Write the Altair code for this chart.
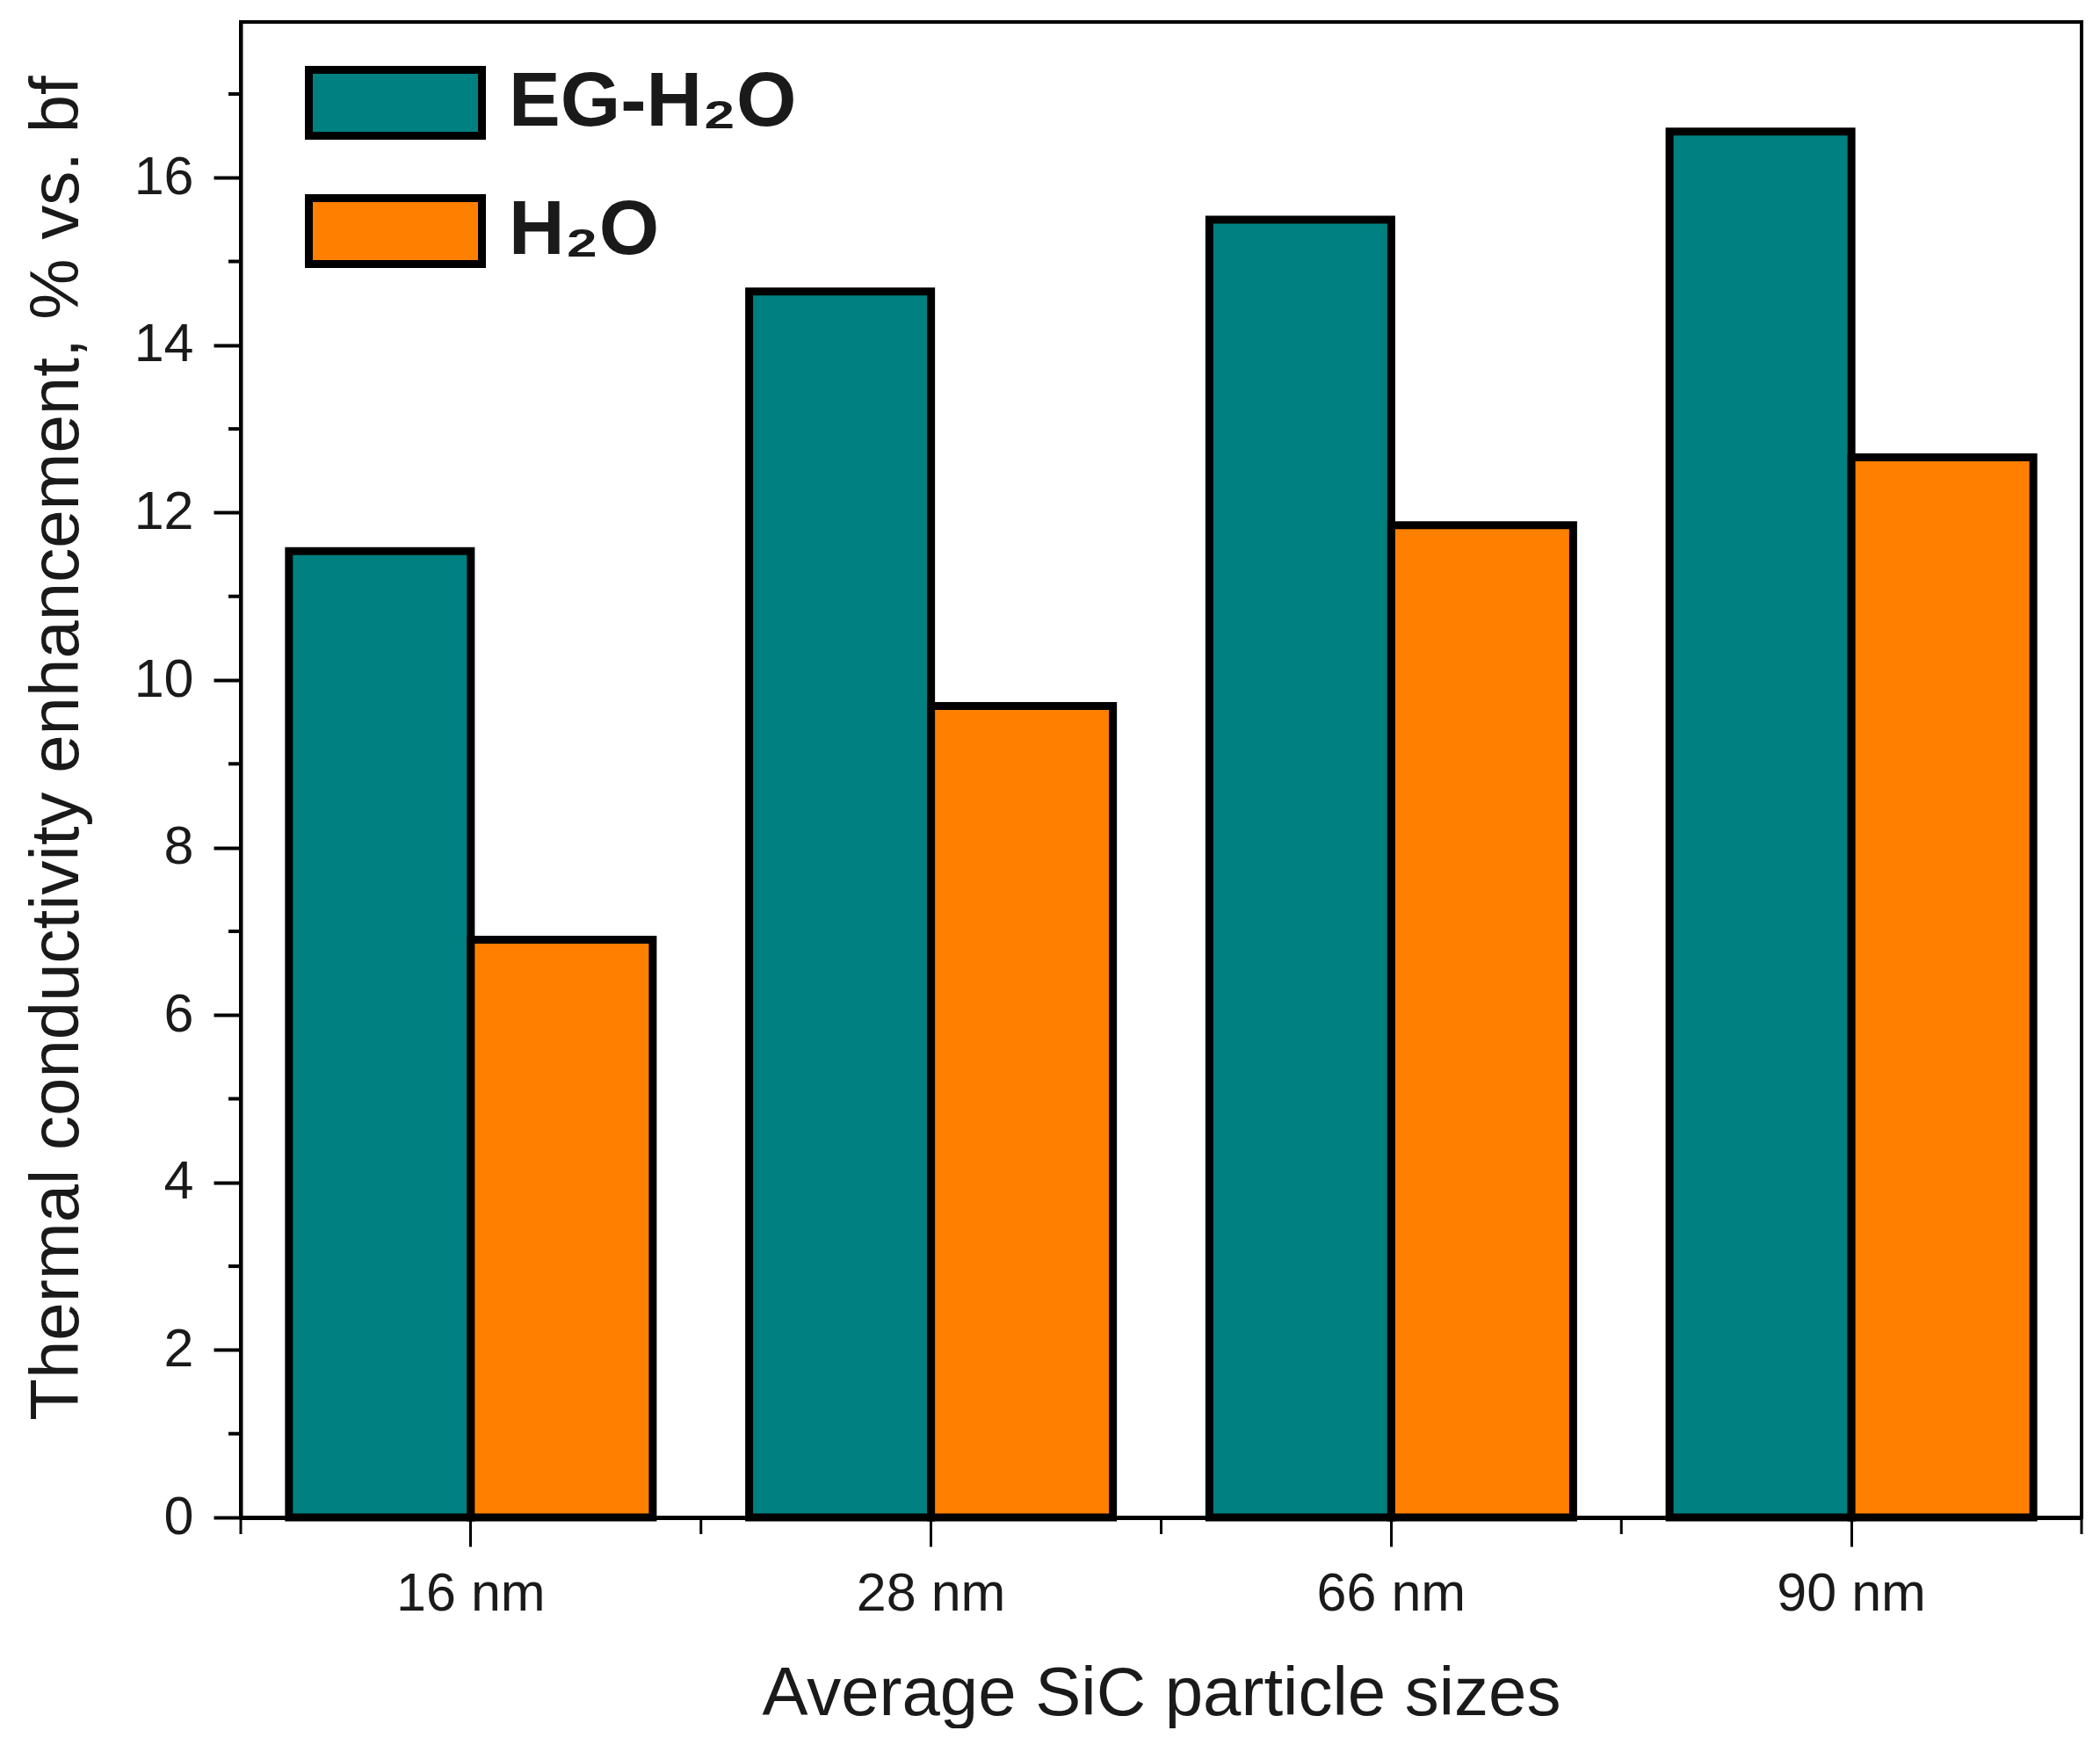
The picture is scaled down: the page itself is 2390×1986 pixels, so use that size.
import altair as alt
import pandas as pd

# ---- data ----
sizes = ["16 nm", "28 nm", "66 nm", "90 nm"]
series = ["EG-H₂O", "H₂O"]
eg_h2o = [11.54, 14.64, 15.50, 16.55]
h2o = [6.90, 9.69, 11.85, 12.66]
colors = ["#008080", "#FF8000"]
y_major = [0, 2, 4, 6, 8, 10, 12, 14, 16]
y_minor = [1, 3, 5, 7, 9, 11, 13, 15, 17]

df = pd.DataFrame({
    "size": sizes * 2,
    "fluid": [series[0]] * len(sizes) + [series[1]] * len(sizes),
    "value": eg_h2o + h2o,
})
minor_df = pd.DataFrame({"v": y_minor})
bound_df = pd.DataFrame({"size": sizes})
last_df = pd.DataFrame({"size": sizes[-1:]})

W, H = 2095, 1702
FONT = "Liberation Sans"
TXT = "#1a1a1a"

x_scale = alt.Scale(domain=sizes, paddingInner=0, paddingOuter=0)
y_scale = alt.Scale(domain=[0, 17.86], nice=False, zero=True)

bars = alt.Chart(df).mark_bar(stroke="black", strokeWidth=9, strokeJoin="miter").encode(
    x=alt.X("size:N", sort=sizes, scale=x_scale,
            axis=alt.Axis(title="Average SiC particle sizes", labelAngle=0,
                          tickSize=33, tickWidth=3, tickColor="black",
                          domainWidth=5, domainColor="black",
                          labelFontSize=61, labelPadding=24, labelColor=TXT,
                          titleFontSize=78, titleFontWeight="normal", titleColor=TXT,
                          titleY=224, titleBaseline="alphabetic")),
    xOffset=alt.XOffset("fluid:N", sort=series,
                        scale=alt.Scale(domain=series, paddingInner=0, paddingOuter=0.265)),
    y=alt.Y("value:Q", scale=y_scale,
            axis=alt.Axis(values=y_major, format="d",
                          title="Thermal conductivity enhancement, % vs. bf",
                          tickSize=31, tickWidth=4, tickColor="black",
                          domainWidth=4, domainColor="black", grid=False,
                          labelFontSize=61, labelPadding=23, labelColor=TXT,
                          titleFontSize=78, titleFontWeight="normal", titleColor=TXT,
                          titleX=-186, titleY=826, titleBaseline="alphabetic")),
    color=alt.Color("fluid:N", scale=alt.Scale(domain=series, range=colors),
                    legend=alt.Legend(title=None, orient="none", legendX=73, legendY=19,
                                      symbolType="M-1,-0.38H1V0.38H-1Z", symbolSize=38809,
                                      symbolStrokeColor="black", symbolStrokeWidth=9,
                                      symbolOpacity=1,
                                      labelFontSize=88, labelFontWeight="bold",
                                      labelLimit=2000, clipHeight=146,
                                      labelColor=TXT, labelOffset=26, rowPadding=0,
                                      padding=0)),
)

minor_y = alt.Chart(minor_df).mark_rule(color="black", strokeWidth=4).encode(
    y=alt.Y("v:Q", scale=y_scale),
    x=alt.value(-14), x2=alt.value(0),
)

bound_ticks = alt.Chart(bound_df).mark_rule(color="black", strokeWidth=3).encode(
    x=alt.X("size:N", sort=sizes, scale=x_scale, bandPosition=0),
    y=alt.value(H), y2=alt.value(H + 19),
)
last_tick = alt.Chart(last_df).mark_rule(color="black", strokeWidth=3).encode(
    x=alt.X("size:N", sort=sizes, scale=x_scale, bandPosition=1),
    y=alt.value(H), y2=alt.value(H + 19),
)

chart = alt.layer(bars, minor_y, bound_ticks, last_tick).properties(
    width=W, height=H,
    autosize=alt.AutoSizeParams(type="none"),
    padding={"left": 266, "top": 17, "right": 10, "bottom": 240},
).configure(font=FONT).configure_view(
    stroke="black", strokeWidth=4,
)

chart.save("out.html", embed_options={"renderer": "svg", "actions": False})
